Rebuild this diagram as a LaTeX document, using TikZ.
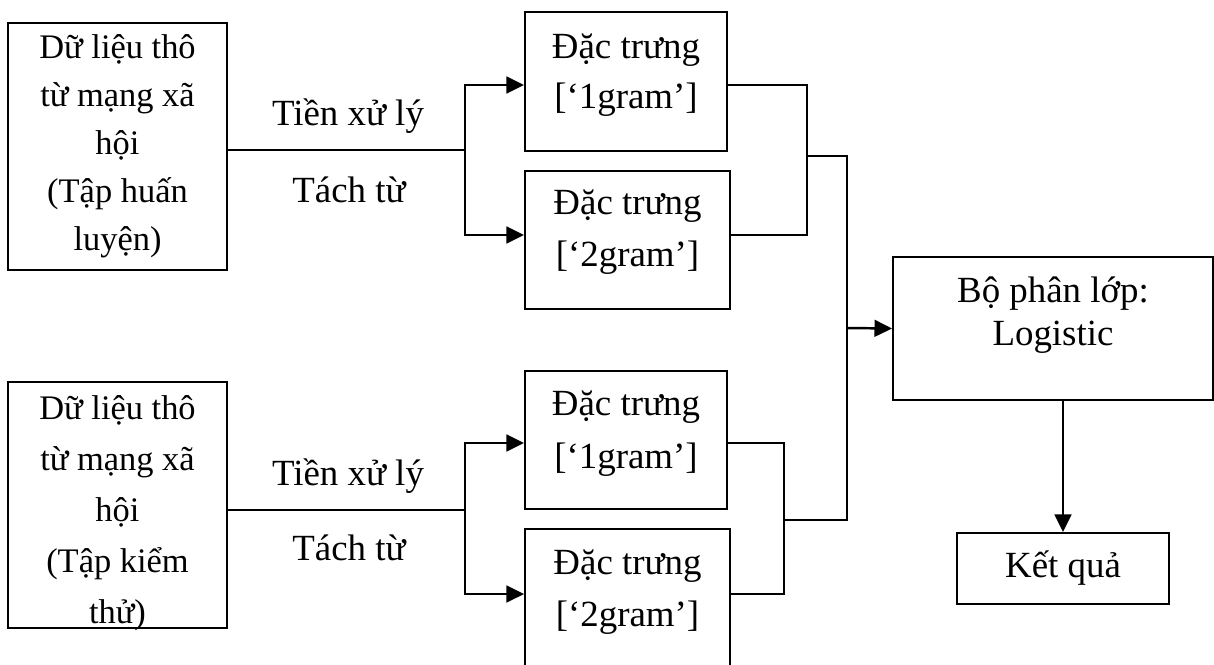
\documentclass[tikz,border=0pt]{standalone}
\usepackage{fontspec}
\setmainfont{Liberation Serif}
\usetikzlibrary{arrows.meta,positioning}
\tikzset{>={Triangle[length=10pt,width=9.5pt]}}

\begin{document}
\begin{tikzpicture}[x=0.02cm, y=-0.02cm,
                    box/.style={draw, line width=1.1pt, inner sep=0pt},
                    txt/.style={align=center, inner sep=0pt, font=\fontsize{21}{#1}\selectfont},
                    txt/.default=30pt,
                    rawtxt/.style={align=center, inner sep=0pt, font=\fontsize{19.6}{#1}\selectfont},
                    link/.style={line width=1.1pt},
                    feed/.style={line width=1.4pt, ->},
                   ]

\useasboundingbox (0,0) rectangle (1214,664);

% input data
\node[box, rawtxt=27.3pt, minimum width=4.38cm, minimum height=4.94cm] (raw1) at (117.5,146.5)
      {Dữ liệu thô\\từ mạng xã\\hội\\(Tập huấn\\luyện)};
\node[box, minimum width=4.38cm, minimum height=4.92cm] (raw2) at (117.5,505) {};
\node[rawtxt=29pt] (raw2txt) at (117.5,513) {Dữ liệu thô\\từ mạng xã\\hội\\(Tập kiểm\\thử)};

% preprocessing labels
\node[txt, anchor=base] (pre1) at (348,125) {Tiền xử lý};
\node[txt, anchor=base] (seg1) at (349,202) {Tách từ};
\node[txt, anchor=base] (pre2) at (348,485) {Tiền xử lý};
\node[txt, anchor=base] (seg2) at (349,560) {Tách từ};

% feature boxes
\node[box, minimum width=4.04cm, minimum height=2.78cm] (f1) at (626,81.5) {};
\node[box, minimum width=4.10cm, minimum height=2.76cm] (f2) at (627.5,240) {};
\node[box, minimum width=4.04cm, minimum height=2.76cm] (f3) at (626,440) {};
\node[box, minimum width=4.10cm, minimum height=2.84cm] (f4) at (627.5,600) {};
\node[txt=28.5pt] (f1txt) at (626,75) {Đặc trưng\\{}[‘1gram’]};
\node[txt] (f2txt) at (627.5,232) {Đặc trưng\\{}[‘2gram’]};
\node[txt] (f3txt) at (626,433.5) {Đặc trưng\\{}[‘1gram’]};
\node[txt] (f4txt) at (627.5,592) {Đặc trưng\\{}[‘2gram’]};

% classifier and result
\node[box, minimum width=6.40cm, minimum height=2.86cm] (cls) at (1053,328.5) {};
\node[txt=24.5pt] (clstxt) at (1053,315.5) {Bộ phân lớp:\\Logistic};
\node[box, txt, minimum width=4.24cm, minimum height=1.42cm] (res) at (1063,568.5) {Kết quả};

% connectors
\coordinate (br1) at (465,150);
\coordinate (br2) at (465,510);
\coordinate (j1) at (807,156);
\coordinate (j2) at (784,520);
\coordinate (m) at (847,328);

\draw[link] (raw1.east |- br1) -- (br1);
\draw[feed] (br1) |- ([yshift=-2pt]f1.west);
\draw[feed] (br1) |- ([yshift=2.85pt]f2.west);
\draw[link] (raw2.east |- br2) -- (br2);
\draw[feed] (br2) |- ([yshift=-1.7pt]f3.west);
\draw[feed] (br2) |- ([yshift=3.4pt]f4.west);

\draw[link] ([yshift=-2pt]f1.east) -| (j1) |- ([yshift=2.85pt]f2.east);
\draw[link] ([yshift=-1.7pt]f3.east) -| (j2) |- ([yshift=3.4pt]f4.east);
\draw[link] (j1) -| (m) |- (j2);
\draw[feed] (m) -- (cls.west);
\draw[feed] (cls.south -| res.north) -- (res.north);

\end{tikzpicture}
\end{document}
